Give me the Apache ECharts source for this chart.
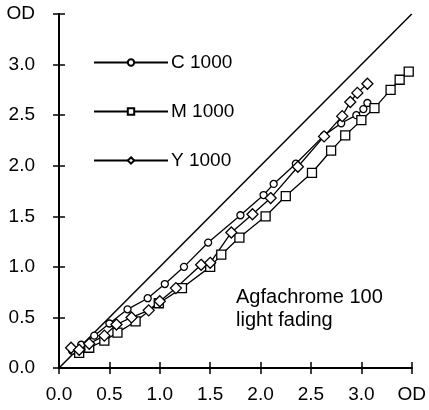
<!DOCTYPE html>
<html>
<head>
<meta charset="utf-8">
<title>Agfachrome 100 light fading</title>
<script src="https://cdn.jsdelivr.net/npm/echarts@6/dist/echarts.min.js"></script>
<style>
  body { margin: 0; background: #fff; }
  #main { width: 429px; height: 410px; }
</style>
</head>
<body>
<div id="main"></div>
<script type="text/javascript">
// tick values on both axes; the last one is shown as "OD"
var ticks = [0, 0.5, 1.0, 1.5, 2.0, 2.5, 3.0, 3.5];

// reference line (initial = final)
var diagonal = [[0, 0], [3.5, 3.5]];

// C 1000 (circles): initial OD, faded OD
var cData = [[0.13, 0.17], [0.22, 0.23], [0.35, 0.32], [0.5, 0.44], [0.68, 0.58], [0.88, 0.69],
  [1.05, 0.83], [1.24, 1.0], [1.48, 1.24], [1.8, 1.51], [2.03, 1.71], [2.13, 1.82],
  [2.35, 2.02], [2.63, 2.3], [2.8, 2.42], [2.95, 2.5], [3.02, 2.56], [3.06, 2.62]];

// M 1000 (squares)
var mData = [[0.2, 0.15], [0.3, 0.2], [0.45, 0.27], [0.58, 0.35], [0.76, 0.46], [0.99, 0.64],
  [1.22, 0.79], [1.5, 1.0], [1.61, 1.12], [1.79, 1.29], [2.05, 1.5], [2.25, 1.7],
  [2.51, 1.93], [2.7, 2.15], [2.84, 2.3], [3.0, 2.45], [3.13, 2.57], [3.29, 2.75],
  [3.38, 2.85], [3.47, 2.93]];

// Y 1000 (diamonds)
var yData = [[0.12, 0.2], [0.2, 0.18], [0.3, 0.24], [0.45, 0.32], [0.57, 0.43], [0.72, 0.5],
  [0.89, 0.57], [1.0, 0.66], [1.16, 0.79], [1.41, 1.02], [1.5, 1.04], [1.71, 1.34],
  [1.92, 1.52], [2.1, 1.68], [2.37, 1.99], [2.63, 2.29], [2.81, 2.49], [2.89, 2.63],
  [2.96, 2.72], [3.06, 2.81]];

var font = '"Liberation Sans", Arial, sans-serif';

function tickLabel(v) {
  return v >= 3.5 ? 'OD' : v.toFixed(1);
}

function axis(pos, isX) {
  return {
    type: 'value',
    position: pos,
    min: ticks[0],
    max: ticks[ticks.length - 1],
    interval: 0.5,
    axisLine: { show: true, lineStyle: { color: '#000', width: 2 } },
    axisTick: { show: true, inside: true, length: 6, lineStyle: { color: '#000', width: 1.5 } },
    axisLabel: {
      show: pos === 'left' || pos === 'bottom',
      color: '#000',
      fontFamily: font,
      fontSize: 19,
      margin: isX ? 17 : 24,
      formatter: tickLabel,
      showMinLabel: true,
      showMaxLabel: true
    },
    splitLine: { show: false }
  };
}

var myChart = echarts.init(document.getElementById('main'));

var option = {
  backgroundColor: '#fff',
  animation: false,
  grid: { left: 59, right: 15, top: 14, bottom: 42 },
  xAxis: [axis('bottom', true), axis('top', true)],
  yAxis: [axis('left', false), axis('right', false)],
  legend: {
    orient: 'vertical',
    left: 93,
    top: 53,
    padding: 0,
    itemWidth: 74,
    itemHeight: 8,
    itemGap: 30,
    textStyle: { color: '#000', fontFamily: font, fontSize: 19, padding: [0, 0, 0, -2] },
    data: ['C 1000', 'M 1000', 'Y 1000']
  },
  graphic: [{
    type: 'text',
    left: 236,
    top: 286,
    style: {
      text: 'Agfachrome 100\nlight fading',
      fill: '#000',
      font: '20px ' + font,
      lineHeight: 23
    }
  }],
  series: [
    {
      name: 'diag',
      type: 'line',
      data: diagonal,
      symbol: 'none',
      lineStyle: { color: '#000', width: 1.5 },
      silent: true
    },
    {
      name: 'C 1000',
      type: 'line',
      data: cData,
      symbol: 'circle',
      symbolSize: 7,
      itemStyle: { color: '#fff', borderColor: '#000', borderWidth: 1.3 },
      lineStyle: { color: '#000', width: 1.3 }
    },
    {
      name: 'M 1000',
      type: 'line',
      data: mData,
      symbol: 'rect',
      symbolSize: 9,
      itemStyle: { color: '#fff', borderColor: '#000', borderWidth: 1.3 },
      lineStyle: { color: '#000', width: 1.3 }
    },
    {
      name: 'Y 1000',
      type: 'line',
      data: yData,
      symbol: 'diamond',
      symbolSize: 11,
      itemStyle: { color: '#fff', borderColor: '#000', borderWidth: 1.3 },
      lineStyle: { color: '#000', width: 1.3 }
    }
  ]
};

myChart.setOption(option);
</script>
</body>
</html>
